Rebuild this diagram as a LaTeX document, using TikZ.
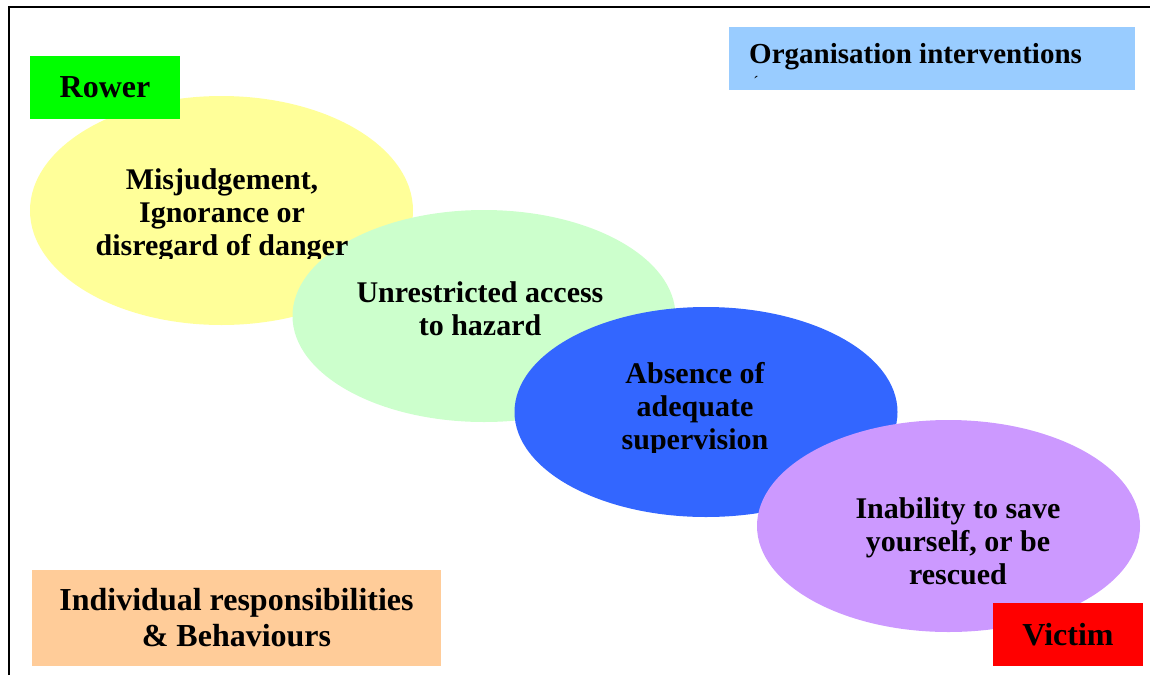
\documentclass[tikz,border=0pt]{standalone}
\usepackage{fontspec}
\setmainfont{Liberation Serif}
\usetikzlibrary{positioning,shapes.geometric}

\definecolor{rowergreen}{HTML}{00FF00}
\definecolor{orgblue}{HTML}{99CCFF}
\definecolor{peach}{HTML}{FFCC99}
\definecolor{victimred}{HTML}{FF0000}
\definecolor{pale_yellow}{HTML}{FFFF99}
\definecolor{pale_green}{HTML}{CCFFCC}
\definecolor{mid_blue}{HTML}{3366FF}
\definecolor{lilac}{HTML}{CC99FF}

\begin{document}
\begin{tikzpicture}[x=1pt, y=-1pt,
label_box/.style={rectangle, inner sep=0pt, align=center, font=\fontsize{32}{36}\selectfont\bfseries},
blob/.style={ellipse, inner sep=0pt, minimum width=383, minimum height=212},
blob_text/.style={align=center, inner sep=0pt, font=\fontsize{30}{33}\selectfont\bfseries}
]

\useasboundingbox (0,0) rectangle (1150,675);

% frame
\draw[line width=1.5pt](9,675) -- (9,7) -- (1150,7);

% ellipses
\node[blob, fill=pale_yellow, minimum height=229](misjudge) at (221.5,210.5) {};
\node[blob, fill=pale_green](access) at (484,316) {};
\node[blob, fill=mid_blue, minimum height=210](supervision) at (706,412) {};
\node[blob, fill=lilac](rescue) at (948.5,526) {};

% texts of the ellipses
\begin{scope}
\clip (20,150) rectangle (420,258);
\node[blob_text](misjudge_text) at (222,215) {Misjudgement,\\Ignorance or\\disregard of danger};
\end{scope}
\node[blob_text](access_text) at (480,309) {Unrestricted access\\to hazard};
\begin{scope}
\clip (500,350) rectangle (900,452);
\node[blob_text](supervision_text) at (695,409) {Absence of\\adequate\\supervision};
\end{scope}
\node[blob_text](rescue_text) at (958,541) {Inability to save\\yourself, or be\\rescued};

% boxes
\node[label_box, fill=rowergreen, minimum width=150, minimum height=63](rower) at (105,87.5) {Rower};
\node[label_box, fill=victimred, minimum width=150, minimum height=63](victim) at (1068,634.5) {Victim};
\node[label_box, fill=peach, minimum width=409, minimum height=96](individual) at (236.5,618) {Individual responsibilities\\\& Behaviours};
\node[label_box, fill=orgblue, minimum width=406, minimum height=63](org) at (932,58.5) {};
\node[label_box, anchor=base west, font=\fontsize{29}{33}\selectfont\bfseries](org_text) at (749,63) {Organisation interventions};
\node[font=\fontsize{16}{16}\selectfont, inner sep=0pt](org_mark) at (756,82) {´};

\end{tikzpicture}
\end{document}
